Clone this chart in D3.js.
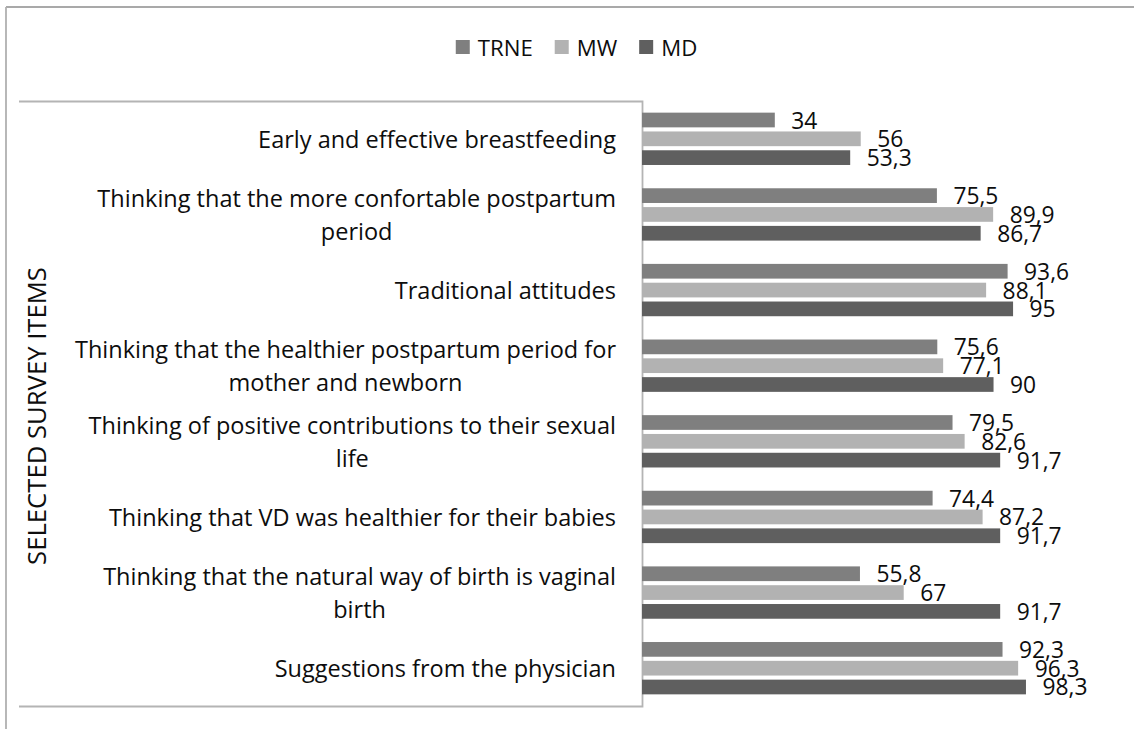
<!DOCTYPE html>
<html>
<head>
<meta charset="utf-8">
<script src="https://cdn.jsdelivr.net/npm/d3@7"></script>
<style>
  html, body { margin: 0; padding: 0; background: #fff; }
  svg { display: block; }
  text { font-family: "Open Sans", "Liberation Sans", sans-serif; fill: #0d0d0d; }
</style>
</head>
<body>
<svg id="chart" width="1134" height="729"></svg>
<script>
// ---------- data ----------
const categories = [
  "Early and effective breastfeeding",
  "Thinking that the more confortable postpartum period",
  "Traditional attitudes",
  "Thinking that the healthier postpartum period for mother and newborn",
  "Thinking of positive contributions to their sexual life",
  "Thinking that VD was healthier for their babies",
  "Thinking that the natural way of birth is vaginal birth",
  "Suggestions from the physician"
];
const categoryLines = [
  ["Early and effective breastfeeding"],
  ["Thinking that the more confortable postpartum", "period"],
  ["Traditional attitudes"],
  ["Thinking that the healthier postpartum period for", "mother and newborn"],
  ["Thinking of positive contributions to their sexual", "life"],
  ["Thinking that VD was healthier for their babies"],
  ["Thinking that the natural way of birth is vaginal", "birth"],
  ["Suggestions from the physician"]
];
const seriesNames = ["TRNE", "MW", "MD"];
const trneValues = [34, 75.5, 93.6, 75.6, 79.5, 74.4, 55.8, 92.3];
const mwValues   = [56, 89.9, 88.1, 77.1, 82.6, 87.2, 67, 96.3];
const mdValues   = [53.3, 86.7, 95, 90, 91.7, 91.7, 91.7, 98.3];
const seriesColors = ["#7f7f7f", "#b2b2b2", "#5f5f5f"];
const axisTitle = "SELECTED SURVEY ITEMS";
const xDomain = [0, 100];

// ---------- layout ----------
const svg = d3.select("#chart");
const plot = { left: 642, right: 1032.6, top: 101, bottom: 706 };
const boxLeft = 19;

function fitSize(str, target) {
  const t = svg.append("text").style("font-size", "100px").text(str);
  const w = t.node().getComputedTextLength();
  t.remove();
  return 100 * target / w;
}
const catSize = fitSize("Early and effective breastfeeding", 358);
const valSize = fitSize("75,6", 45);
const legSize = fitSize("TRNE", 55);
const titleSize = fitSize(axisTitle, 298);

// outer frame (only top and left visible)
svg.append("line").attr("x1", 6).attr("y1", 7).attr("x2", 1134).attr("y2", 7)
  .attr("stroke", "#8c8c8c").attr("stroke-width", 1.6);
svg.append("line").attr("x1", 6).attr("y1", 7).attr("x2", 6).attr("y2", 729)
  .attr("stroke", "#b0b0b0").attr("stroke-width", 1.8);

// scales
const x = d3.scaleLinear().domain(xDomain).range([plot.left, plot.right]);
const y0 = d3.scaleBand().domain(categories).range([plot.top, plot.bottom])
  .paddingInner(0.308).paddingOuter(0.154);
const y1 = d3.scaleBand().domain(seriesNames).range([0, y0.bandwidth()])
  .paddingInner(0.218);

const rows = categories.map((c, i) => ({
  cat: c, lines: categoryLines[i],
  vals: [trneValues[i], mwValues[i], mdValues[i]]
}));

// category axis box (domain path with long outer ticks)
const axisG = svg.append("g").attr("transform", `translate(${plot.left},0)`)
  .call(d3.axisLeft(y0).tickSizeInner(0).tickSizeOuter(plot.left - boxLeft).tickFormat(""));
axisG.select(".domain").attr("stroke", "#b4b4b4").attr("stroke-width", 1.8);
axisG.selectAll(".tick").remove();

// bars
const groups = svg.append("g").selectAll("g").data(rows).join("g")
  .attr("transform", d => `translate(0,${y0(d.cat)})`);
groups.selectAll("rect").data(d => d.vals.map((v, j) => ({ v, s: seriesNames[j], j })))
  .join("rect")
  .attr("x", x(0))
  .attr("y", d => y1(d.s))
  .attr("width", d => x(d.v) - x(0))
  .attr("height", y1.bandwidth())
  .attr("fill", d => seriesColors[d.j]);

// value labels
const fmt = v => String(v).replace(".", ",");
groups.selectAll("text.val").data(d => d.vals.map((v, j) => ({ v, s: seriesNames[j], j })))
  .join("text").attr("class", "val")
  .attr("x", d => x(d.v) + 16.5)
  .attr("y", d => y1(d.s) + y1.bandwidth() / 2)
  .attr("dominant-baseline", "central")
  .style("font-size", valSize + "px")
  .text(d => fmt(d.v));

// category labels
const labelRight = 616;
const lineGap = 33;
rows.forEach(r => {
  const cy = y0(r.cat) + y0.bandwidth() / 2;
  const g = svg.append("g");
  const texts = r.lines.map((ln, i) => g.append("text")
    .attr("y", cy + (i - (r.lines.length - 1) / 2) * lineGap)
    .attr("dominant-baseline", "central")
    .attr("text-anchor", "middle")
    .style("font-size", catSize + "px")
    .text(ln));
  const maxW = d3.max(texts, t => t.node().getComputedTextLength());
  texts.forEach(t => t.attr("x", labelRight - maxW / 2));
});

// axis title
svg.append("text")
  .attr("transform", `translate(36,416) rotate(-90)`)
  .attr("text-anchor", "middle")
  .attr("dominant-baseline", "central")
  .style("font-size", titleSize + "px")
  .text(axisTitle);

// legend
const sq = 14, sqGap = 8, itemGap = 22, legCenter = 576.5, legY = 47;
const leg = svg.append("g");
const items = seriesNames.map((n, i) => {
  const g = leg.append("g");
  g.append("rect").attr("width", sq).attr("height", sq).attr("y", legY - sq / 2)
    .attr("fill", seriesColors[i]);
  const t = g.append("text").attr("x", sq + sqGap).attr("y", legY)
    .attr("dominant-baseline", "central").style("font-size", legSize + "px").text(n);
  return { g, w: sq + sqGap + t.node().getComputedTextLength() };
});
const total = d3.sum(items, d => d.w) + itemGap * (items.length - 1);
let cx = legCenter - total / 2;
items.forEach(it => { it.g.attr("transform", `translate(${cx},0)`); cx += it.w + itemGap; });
</script>
</body>
</html>
